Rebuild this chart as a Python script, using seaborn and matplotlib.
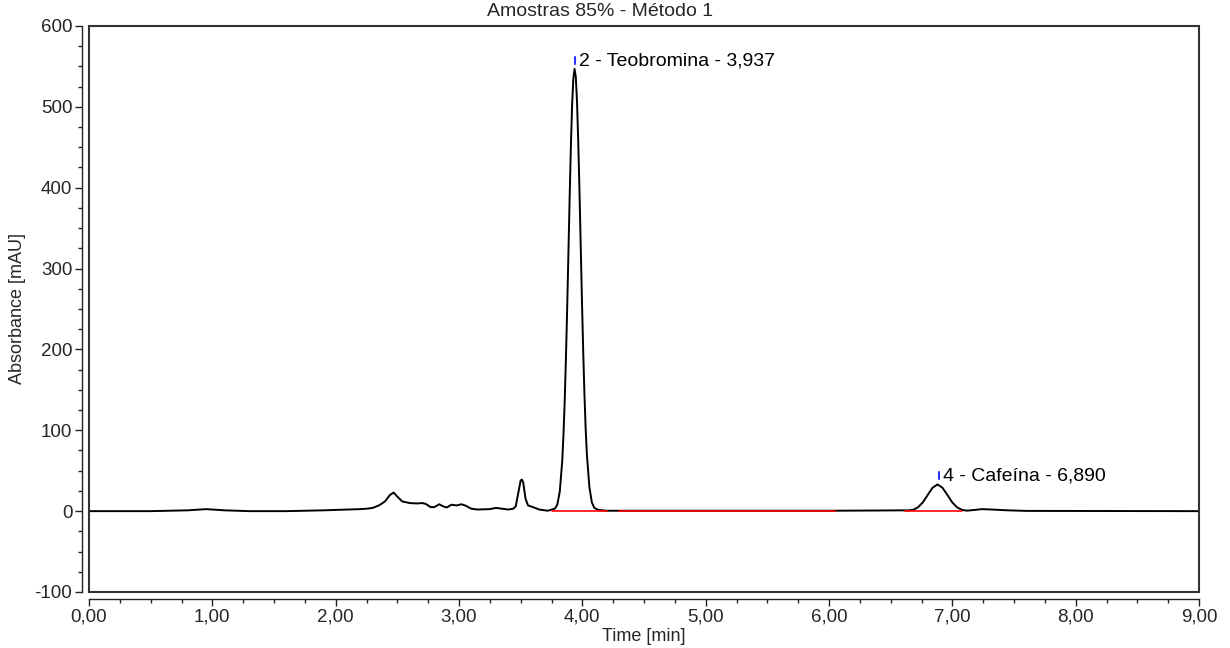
import matplotlib
matplotlib.use("Agg")
import matplotlib.pyplot as plt
import matplotlib.ticker as mticker
from matplotlib.patches import Rectangle
import seaborn as sns
import pandas as pd

# ---- data ----
time_min = [
    0.00, 0.50, 0.80, 0.95, 1.10, 1.30, 1.60, 1.90, 2.10, 2.20, 2.25,
    2.30, 2.35, 2.40, 2.44, 2.47, 2.50, 2.54, 2.60, 2.66, 2.70, 2.73, 2.77,
    2.80, 2.84, 2.87, 2.90, 2.94, 2.98, 3.02, 3.05, 3.10, 3.15, 3.25, 3.30,
    3.35, 3.40, 3.44, 3.46, 3.48, 3.50, 3.51, 3.52, 3.54, 3.56, 3.60, 3.65,
    3.72, 3.777, 3.797, 3.817, 3.837, 3.847, 3.857, 3.867, 3.877, 3.887,
    3.897, 3.907, 3.917, 3.927, 3.937, 3.947, 3.957, 3.967, 3.977, 3.987,
    3.997, 4.007, 4.017, 4.027, 4.037, 4.057, 4.077, 4.097, 4.13, 4.20,
    4.50, 5.00, 5.50, 6.00, 6.40, 6.60, 6.64, 6.68, 6.72, 6.76, 6.80, 6.84,
    6.88, 6.92, 6.96, 7.00, 7.04, 7.08, 7.12, 7.18, 7.24, 7.32, 7.45, 7.60,
    9.00,
]
absorbance_mau = [
    0.0, 0.0, 1.0, 2.5, 1.0, 0.0, 0.0, 1.0, 2.0, 2.5, 3.0,
    4.0, 7.0, 12.0, 20.0, 23.0, 18.0, 12.0, 10.0, 9.5, 10.0, 9.0, 5.0,
    5.0, 8.5, 6.0, 4.5, 8.0, 7.0, 8.5, 7.0, 3.0, 2.0, 2.5, 4.0,
    3.0, 2.0, 3.0, 6.0, 22.0, 38.0, 39.0, 36.0, 15.0, 7.0, 5.0, 2.0,
    0.5, 3.0, 8.0, 24.0, 62.0, 94.0, 136.0, 189.0, 250.0, 318.0,
    387.0, 450.0, 502.0, 535.0, 547.0, 537.0, 506.0, 456.0, 395.0, 327.0,
    260.0, 198.0, 145.0, 102.0, 70.0, 30.0, 11.0, 4.0, 1.5, 0.5,
    0.5, 0.5, 0.5, 0.5, 0.8, 1.0, 1.0, 1.5, 4.5, 10.7, 20.0, 29.0,
    33.0, 29.0, 20.0, 10.7, 4.5, 1.5, 0.6, 1.5, 2.5, 2.0, 1.0, 0.3,
    0.0,
]

# integration baselines (start, end) in minutes
baseline_starts = [3.75, 4.30, 6.62]
baseline_ends = [4.20, 6.05, 7.08]

peak_times = [3.937, 6.890]
peak_marker_low = [553, 40]
peak_marker_high = [562, 49]
peak_label_y = [557, 43]
peak_labels = ["2 - Teobromina - 3,937", "4 - Cafeína - 6,890"]

subtitle = "Amostras 85% - Método 1"
x_label = "Time [min]"
y_label = "Absorbance [mAU]"

# ---- figure ----
sns.set_style("ticks")
plt.rcParams["font.family"] = ["Liberation Sans", "DejaVu Sans"]

fig = plt.figure(figsize=(12.3, 6.48), dpi=100)
ax = fig.add_axes([89 / 1230, 1 - 592 / 648, (1199 - 89) / 1230, (592 - 26) / 648])

df = pd.DataFrame({"t": time_min, "a": absorbance_mau})
sns.lineplot(data=df, x="t", y="a", sort=False, estimator=None,
             color="black", linewidth=1.4, ax=ax, zorder=3)

for s, e in zip(baseline_starts, baseline_ends):
    ax.plot([s, e], [0.5, 0.5], color="red", linewidth=1.2, zorder=4)

for t, lo, hi, ly, lab in zip(peak_times, peak_marker_low, peak_marker_high,
                               peak_label_y, peak_labels):
    ax.plot([t, t], [lo, hi], color="#3030ff", linewidth=1.5, zorder=5)
    ax.text(t + 0.035, ly, lab, fontsize=14, ha="left", va="center", color="black")

ax.set_xlim(0, 9)
ax.set_ylim(-100, 600)
ax.xaxis.set_major_locator(mticker.MultipleLocator(1))
ax.xaxis.set_minor_locator(mticker.MultipleLocator(0.25))
ax.yaxis.set_major_locator(mticker.MultipleLocator(100))
ax.yaxis.set_minor_locator(mticker.MultipleLocator(25))
ax.xaxis.set_major_formatter(mticker.FuncFormatter(lambda v, p: f"{v:.2f}".replace(".", ",")))
ax.yaxis.set_major_formatter(mticker.FuncFormatter(lambda v, p: f"{int(round(v))}"))

ax.tick_params(axis="both", which="major", labelsize=13.5, direction="out",
               length=5, width=1, color="#222222", pad=2)
ax.tick_params(axis="both", which="minor", direction="out", length=3, width=1, color="#222222")

for side in ["top", "right"]:
    ax.spines[side].set_visible(False)
for side in ["left", "bottom"]:
    ax.spines[side].set_position(("outward", 5))
    ax.spines[side].set_linewidth(1.0)
    ax.spines[side].set_color("#222222")
ax.spines["left"].set_bounds(-100, 600)
ax.spines["bottom"].set_bounds(0, 9)

frame = Rectangle((0, 0), 1, 1, transform=ax.transAxes, fill=False,
                  edgecolor="#333333", linewidth=1.5, clip_on=False, zorder=6)
ax.add_patch(frame)

ax.set_xlabel(x_label, fontsize=13, labelpad=2)
ax.set_ylabel(y_label, fontsize=13, labelpad=6)

fig.text(600 / 1230, 1 - 12 / 648, subtitle, fontsize=14, ha="center", va="center")

fig.savefig("out.png", dpi=100)
